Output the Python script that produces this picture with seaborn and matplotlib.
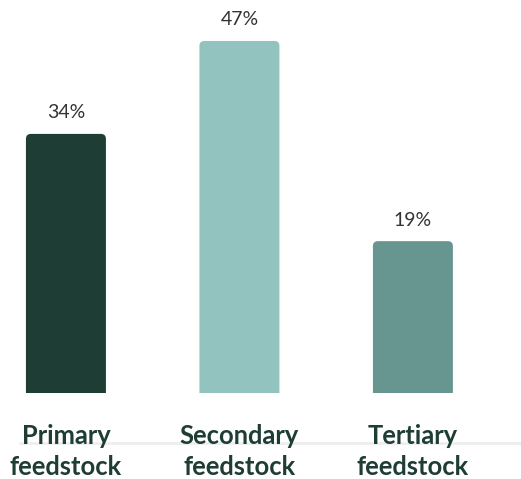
import matplotlib
matplotlib.use("Agg")
import matplotlib.pyplot as plt
import seaborn as sns
import pandas as pd
from matplotlib.path import Path
from matplotlib.patches import PathPatch

categories = ["Primary\nfeedstock", "Secondary\nfeedstock", "Tertiary\nfeedstock"]
shares = [34, 47, 19]
colors = ["#1e3d35", "#93c3bf", "#679691"]

sns.set_theme(style="white")
plt.rcParams["font.family"] = ["Lato", "DejaVu Sans"]

df = pd.DataFrame({"category": categories, "share": shares})

fig = plt.figure(figsize=(5.21, 4.79), dpi=100)
ax = fig.add_axes([0.0, 1 - 393 / 479, 1.0, 393 / 479])

# bars rise from a baseline slightly below zero
floor = -2.24
sns.barplot(data=df, x="category", y="share", hue="category", palette=colors,
            legend=False, ax=ax, width=0.461)
ax.set_xlim(-0.380, 2.623)
ax.set_ylim(floor, 52.73)

# swap the plain rectangles for bars with rounded top corners
fig.canvas.draw()
inv = ax.transData.inverted()
rx = (inv.transform((5, 0)) - inv.transform((0, 0)))[0]
ry = (inv.transform((0, 5)) - inv.transform((0, 0)))[1]
for bar, col, val in zip(list(ax.patches), colors, shares):
    x0, w = bar.get_x(), bar.get_width()
    y1 = bar.get_y() + bar.get_height()
    y0 = floor
    bar.remove()
    x1 = x0 + w
    verts = [(x0, y0), (x0, y1 - ry), (x0, y1), (x0 + rx, y1),
             (x1 - rx, y1), (x1, y1), (x1, y1 - ry), (x1, y0), (x0, y0)]
    codes = [Path.MOVETO, Path.LINETO, Path.CURVE3, Path.CURVE3,
             Path.LINETO, Path.CURVE3, Path.CURVE3, Path.LINETO, Path.CLOSEPOLY]
    ax.add_patch(PathPatch(Path(verts, codes), facecolor=col, edgecolor="none"))
    ax.annotate(f"{val}%", (x0 + w / 2, y1), xytext=(0, 9),
                textcoords="offset points", ha="center", va="bottom",
                fontsize=14, color="#333333")

sns.despine(ax=ax, left=True, bottom=True)
ax.set_yticks([])
ax.set_xlabel("")
ax.set_ylabel("")
ax.set_xticks([0, 1, 2])
ax.set_xticklabels(categories, fontsize=18.4, fontweight="bold", color="#1e3d35",
                   linespacing=1.38)
ax.tick_params(axis="x", length=0, pad=22)

# faint rule across the label band
fig.add_artist(plt.Line2D([20 / 521, 1.0], [1 - 443 / 479] * 2, color="#eeeeee",
                          lw=2, zorder=0, transform=fig.transFigure))

fig.savefig("out.png", dpi=100)
